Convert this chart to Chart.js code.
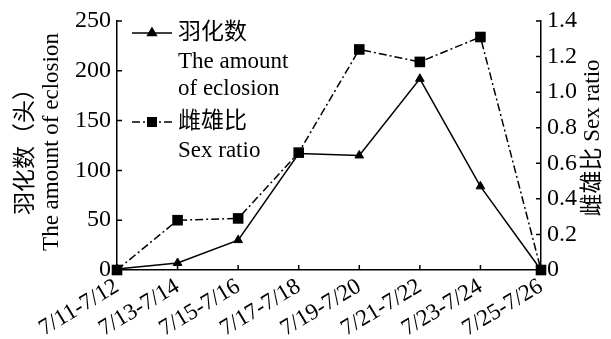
<!DOCTYPE html>
<html>
<head>
<meta charset="utf-8">
<script src="https://cdn.jsdelivr.net/npm/chart.js@4/dist/chart.umd.min.js"></script>
<style>
  html, body { margin: 0; padding: 0; background: #fff; }
  #wrap { width: 611px; height: 339px; position: relative; }
</style>
</head>
<body>
<div id="wrap"><canvas id="c" width="611" height="339"></canvas></div>
<script>
// Emergence periods (date ranges)
const periods = ['7/11-7/12', '7/13-7/14', '7/15-7/16', '7/17-7/18', '7/19-7/20', '7/21-7/22', '7/23-7/24', '7/25-7/26'];
// Number of adults emerged per period (head)
const eclosionCount = [1, 7, 30, 117, 115, 192, 84, 0];
// Female : male ratio per period
const sexRatio = [0, 0.28, 0.29, 0.66, 1.24, 1.17, 1.31, 0];
// Axis tick values
const countTicks = [0, 50, 100, 150, 200, 250];
const ratioTicks = [0, 0.2, 0.4, 0.6, 0.8, 1.0, 1.2, 1.4];

const FONT = '"Liberation Serif", "Times New Roman", "Noto Sans CJK SC", serif';
const INK = '#000';

// Inward tick marks, axis titles and the in-plot legend
const decorations = {
  id: 'decorations',
  afterDraw(chart) {
    const ctx = chart.ctx;
    const area = chart.chartArea;
    const sx = chart.scales.x, sl = chart.scales.y, sr = chart.scales.y1;
    ctx.save();
    ctx.strokeStyle = INK;
    ctx.lineWidth = 1.5;
    const tl = 5;
    ctx.beginPath();
    sl.ticks.forEach(t => {
      const y = sl.getPixelForValue(t.value);
      ctx.moveTo(area.left, y); ctx.lineTo(area.left + tl, y);
    });
    sr.ticks.forEach(t => {
      const y = sr.getPixelForValue(t.value);
      ctx.moveTo(area.right, y); ctx.lineTo(area.right - tl, y);
    });
    periods.forEach((p, i) => {
      const x = sx.getPixelForValue(i);
      ctx.moveTo(x, area.bottom); ctx.lineTo(x, area.bottom - tl);
    });
    ctx.stroke();

    // Axis titles
    ctx.fillStyle = INK;
    ctx.textAlign = 'center';
    ctx.textBaseline = 'middle';
    ctx.font = '23px ' + FONT;
    const drawRotated = (text, x, y) => {
      ctx.save();
      ctx.translate(x, y);
      ctx.rotate(-Math.PI / 2);
      ctx.fillText(text, 0, 0);
      ctx.restore();
    };
    drawRotated('羽化数（头）', 26, 146);
    drawRotated('The amount of eclosion', 52, 142);
    drawRotated('雌雄比 Sex ratio', 593, 138);

    // Legend
    const lx0 = 132, lx1 = 172, mx = 152, tx = 178;
    ctx.textAlign = 'left';
    ctx.lineWidth = 1.5;
    // eclosion count entry
    ctx.setLineDash([]);
    ctx.beginPath(); ctx.moveTo(lx0, 33); ctx.lineTo(lx1, 33); ctx.stroke();
    Chart.helpers.drawPoint(ctx, { pointStyle: 'triangle', radius: 5, rotation: 0, borderWidth: 1 }, mx, 33);
    ctx.fill();
    ctx.fillText('羽化数', tx, 33);
    ctx.fillText('The amount', tx, 62);
    ctx.fillText('of eclosion', tx, 89);
    // sex ratio entry
    ctx.setLineDash([8, 3, 2, 3]);
    ctx.beginPath(); ctx.moveTo(lx0, 122); ctx.lineTo(lx1, 122); ctx.stroke();
    ctx.setLineDash([]);
    ctx.fillRect(mx - 5, 117, 10, 10);
    ctx.fillText('雌雄比', tx, 122);
    ctx.fillText('Sex ratio', tx, 151);
    ctx.restore();
  }
};

new Chart(document.getElementById('c'), {
  type: 'line',
  data: {
    labels: periods,
    datasets: [
      {
        label: '雌雄比 Sex ratio',
        data: sexRatio,
        yAxisID: 'y1',
        borderColor: INK,
        backgroundColor: INK,
        borderWidth: 1.5,
        borderDash: [8, 3, 2, 3],
        pointStyle: 'rect',
        pointRadius: 7.5,
        pointBorderWidth: 0,
        tension: 0,
        clip: false
      },
      {
        label: '羽化数 The amount of eclosion',
        data: eclosionCount,
        yAxisID: 'y',
        borderColor: INK,
        backgroundColor: INK,
        borderWidth: 1.5,
        pointStyle: 'triangle',
        pointRadius: 5,
        pointBorderWidth: 1,
        tension: 0,
        clip: false
      }
    ]
  },
  options: {
    responsive: false,
    animation: false,
    events: [],
    layout: { padding: { top: 21, left: 0, right: 0, bottom: 0 } },
    plugins: { legend: { display: false }, title: { display: false }, tooltip: { enabled: false } },
    scales: {
      x: {
        type: 'category',
        offset: false,
        grid: { display: false, drawTicks: false },
        border: { display: true, color: INK, width: 1.5 },
        ticks: {
          color: INK,
          font: { family: FONT, size: 23 },
          maxRotation: 31, minRotation: 31,
          autoSkip: false,
          padding: 3
        },
        afterFit(s) { s.height = 69; }
      },
      y: {
        position: 'left',
        min: 0, max: 250,
        grid: { display: false, drawTicks: false },
        border: { display: true, color: INK, width: 1.5 },
        afterBuildTicks(s) { s.ticks = countTicks.map(v => ({ value: v })); },
        ticks: {
          color: INK,
          font: { family: FONT, size: 24 },
          padding: 6,
          callback: v => String(v)
        },
        afterFit(s) { s.width = 117; }
      },
      y1: {
        position: 'right',
        min: 0, max: 1.4,
        grid: { display: false, drawTicks: false },
        border: { display: true, color: INK, width: 1.5 },
        afterBuildTicks(s) { s.ticks = ratioTicks.map(v => ({ value: v })); },
        ticks: {
          color: INK,
          font: { family: FONT, size: 24 },
          padding: 6,
          callback: v => (v === 0 ? '0' : v.toFixed(1))
        },
        afterFit(s) { s.width = 70; }
      }
    }
  },
  plugins: [decorations]
});
</script>
</body>
</html>
